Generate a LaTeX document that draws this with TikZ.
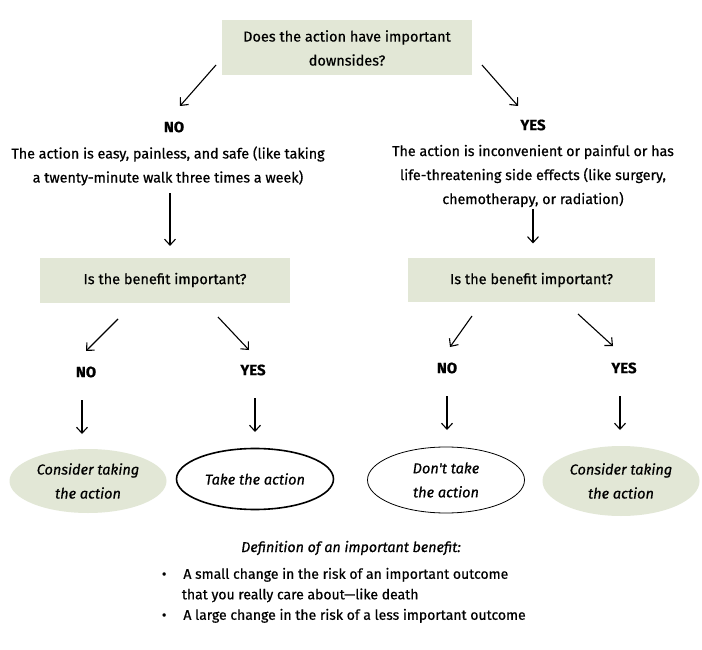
\documentclass[tikz,border=0pt]{standalone}
\usepackage{fontspec}
\setmainfont{Fira Sans}[FakeBold=0.6]
\usetikzlibrary{arrows.meta,calc,shapes.geometric}
\definecolor{sage}{RGB}{226,231,214}

\tikzset{
  qbox/.style={fill=sage,align=center,inner sep=0pt,font=\fontsize{14.5}{24}\selectfont},
  answer/.style={font=\fontsize{15}{16}\selectfont\bfseries},
  says/.style={align=center,font=\fontsize{14.3}{24}\selectfont},
  outcome/.style={ellipse,align=center,inner sep=0pt,minimum width=157pt,minimum height=64pt,
    font=\fontsize{14.5}{24}\selectfont\itshape},
  maybe/.style={outcome,fill=sage},
  yesdo/.style={outcome,draw,line width=1.6pt},
  nodo/.style={outcome,draw,line width=.8pt},
}

\begin{document}
\begin{tikzpicture}[x=1pt,y=-1pt,>={Straight Barb[length=6pt,width=11pt]},line join=round,line width=1.1pt]
  \useasboundingbox (0,0) rectangle (702,650);
  \fill[white] (0,0) rectangle (702,650);
  % first question
  \node[qbox,minimum width=250pt,minimum height=55pt] (q) at (347,48)
    {Does the action have important\\downsides?};
  \coordinate (qL) at (216,65);
  \coordinate (qR) at (482,65);
  % the two kinds of action
  \node[answer] (easyno) at (174,127) {NO};
  \node[says] (easy) at (168,166) {The action is easy, painless, and safe (like taking\\
    a twenty-minute walk three times a week)};
  \node[answer] (hardyes) at (533,125) {YES};
  \node[says] (hard) at (533,176) {The action is inconvenient or painful or has\\
    life-threatening side effects (like surgery,\\chemotherapy, or radiation)};
  \coordinate (noL) at (180,106);
  \coordinate (noR) at (518,106);
  \draw[->] (qL) -- (noL);
  \draw[->] (qR) -- (noR);
  % benefit questions
  \node[qbox,minimum width=250pt,minimum height=45pt] (bq1) at (165,280) {Is the benefit important?};
  \node[qbox,minimum width=247pt,minimum height=44pt] (bq2) at (531.5,280) {Is the benefit important?};
  \draw[->] ($(easy.south -| 170,0)+(0,4)$) -- ($(bq1.north -| 170,0)+(0,-11)$);
  \draw[->] ($(hard.south)+(0,-2)$) -- ($(bq2.north -| 533,0)+(0,-14)$);
  % answers to the benefit questions
  \node[answer] (n1) at (86,372) {NO};
  \node[answer] (y1) at (253,370) {YES};
  \node[answer] (n2) at (447,368) {NO};
  \node[answer] (y2) at (624,368) {YES};
  \coordinate (b1) at (118,319);
  \coordinate (b2) at (218,317);
  \coordinate (b3) at (472,316);
  \coordinate (b4) at (578,314);
  \draw[->] (b1) -- ($(n1)+(0,-21)$);
  \draw[->] (b2) -- ($(y1)+(-4,-20)$);
  \draw[->] (b3) -- ($(n2)+(3,-21)$);
  \draw[->] (b4) -- ($(y2)+(-11,-22)$);
  % outcomes
  \node[maybe] (o1) at (88,481) {Consider taking\\the action};
  \node[yesdo,minimum width=157pt,minimum height=61pt] (o2) at (255,479) {Take the action};
  \node[nodo,minimum width=157pt,minimum height=66pt] (o3) at (446,480) {Don\textquotesingle t take\\the action};
  \node[maybe,minimum height=70pt] (o4) at (621,481) {Consider taking\\the action};
  \foreach \a/\b/\dx in {n1/o1/-4,y1/o2/2,n2/o3/0,y2/o4/-4}
    {\draw[->] ($(\a)+(\dx,28)$) -- ++(0,34);}
  % definition
  \node[font=\fontsize{14.3}{16}\selectfont\itshape] (defn) at (351,548) {Definition of an important benefit:};
  \node[anchor=north west,align=left,font=\fontsize{14}{20.5}\selectfont] (list) at (158,564)
    {\textbullet\hspace{17pt}A small change in the risk of an important outcome\\
     \hspace{20pt}that you really care about---like death\\
     \textbullet\hspace{17pt}A large change in the risk of a less important outcome};
\end{tikzpicture}
\end{document}
